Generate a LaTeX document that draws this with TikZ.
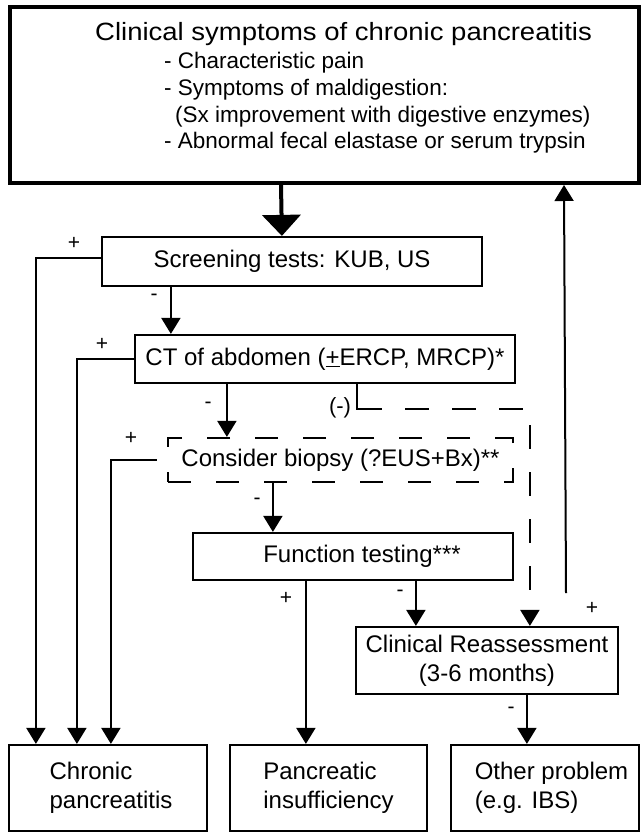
\documentclass[tikz,border=0pt]{standalone}
\usepackage{fontspec}
\setmainfont{Liberation Sans}
\usepackage{graphicx}
\usetikzlibrary{arrows.meta}
\begin{document}
\begin{tikzpicture}[x=1pt,y=-1pt,
  box/.style={draw, line width=2.2pt, rectangle, inner sep=0pt, font=\fontsize{24}{29}\selectfont, align=center},
  arr/.style={line width=2pt, -{Triangle[width=19pt,length=16pt]}},
  lab/.style={font=\fontsize{21}{23}\selectfont, inner sep=0pt},
]
\useasboundingbox (0,0) rectangle (641,833);

% top box
\node[box, line width=4pt, minimum width=629pt, minimum height=176pt] (top) at (324.5,95) {};
\node[anchor=west, inner sep=0pt, font=\fontsize{25}{30}\selectfont] (title) at (95,34) {\scalebox{1.1}[1]{Clinical symptoms of chronic pancreatitis}};
\node[anchor=west, inner sep=0pt, align=left, font=\fontsize{22.5}{26.7}\selectfont] (items) at (164,103) {- Characteristic pain\\- Symptoms of maldigestion:\\\hspace*{11pt}(Sx improvement with digestive enzymes)\\- Abnormal fecal elastase or serum trypsin};

% boxes
\node[box, minimum width=380pt, minimum height=49pt] (scr) at (292,261.5) {Screening tests: KUB, US};
\node[box, minimum width=380pt, minimum height=48pt] (ct) at (325,359) {CT of abdomen (\underline{+}ERCP, MRCP)*};
\node[box, dash pattern=on 23pt off 25pt, minimum width=345pt, minimum height=44pt] (bio) at (340.5,460) {Consider biopsy (?EUS+Bx)**};
\node[box, minimum width=320pt, minimum height=47pt] (fun) at (353,556.5) {\hspace*{18pt}Function testing***};
\node[box, minimum width=262pt, minimum height=67pt] (cli) at (487,660.5) {Clinical Reassessment\\(3-6 months)};
\node[box, align=left, minimum width=198pt, minimum height=86pt] (chr) at (108,788) {\hspace*{6pt}Chronic\\\hspace*{6pt}pancreatitis};
\node[box, align=left, minimum width=197pt, minimum height=86pt] (pan) at (328.5,788) {Pancreatic\\insufficiency};
\node[box, align=left, minimum width=188pt, minimum height=86pt] (oth) at (545,788) {\hspace*{13pt}Other problem\\\hspace*{13pt}(e.g. IBS)};

% main thick arrow
\draw[line width=4pt, -{Triangle[width=38pt,length=21pt]}] ([xshift=273pt]top.south west) -- ([xshift=181pt]scr.north west);

% positive branches to chronic pancreatitis
\draw[arr] ([yshift=3.5pt]scr.west) -| ([xshift=28pt]chr.north west);
\draw[arr] (ct.west) -| ([xshift=69pt]chr.north west);
\draw[arr] ([xshift=-10pt]bio.west) -| ([xshift=103pt]chr.north west);

% negative chain
\draw[arr] ([xshift=70pt]scr.south west) -- ([xshift=37pt]ct.north west);
\draw[arr] ([xshift=93pt]ct.south west) -- ([xshift=60pt]bio.north west);
\draw[arr] ([xshift=106pt]bio.south west) -- ([xshift=81pt]fun.north west);
\draw[arr] ([xshift=114pt]fun.south west) -- ([xshift=77pt]pan.north west);
\draw[arr] ([xshift=224pt]fun.south west) -- ([xshift=61pt]cli.north west);
\draw[arr] ([xshift=172pt]cli.south west) -- ([xshift=77pt]oth.north west);

% dashed (-) path from CT to reassessment
\coordinate (bend) at (382,409);
\draw[line width=2pt] ([xshift=223pt]ct.south west) |- (bend);
\draw[arr, dash pattern=on 24pt off 23pt, dash phase=24pt] (bend) -| ([xshift=175pt]cli.north west);

% feedback arrow up to top
\coordinate (upstart) at (566,593);
\draw[arr] (upstart) -- ([xshift=556pt]top.south west);

% labels
\node[lab] (p1) at (74,243) {+};
\node[lab] (p2) at (102,344) {+};
\node[lab] (p3) at (131,438) {+};
\node[lab] (p4) at (286,598) {+};
\node[lab] (p5) at (592,608) {+};
\node[lab] (m1) at (154,297) {-};
\node[lab] (m2) at (208,405) {-};
\node[lab] (m3) at (257,501) {-};
\node[lab] (m4) at (400,593) {-};
\node[lab] (m5) at (511,710) {-};
\node[lab, font=\fontsize{22}{24}\selectfont] (m6) at (340,408) {(-)};
\end{tikzpicture}
\end{document}
